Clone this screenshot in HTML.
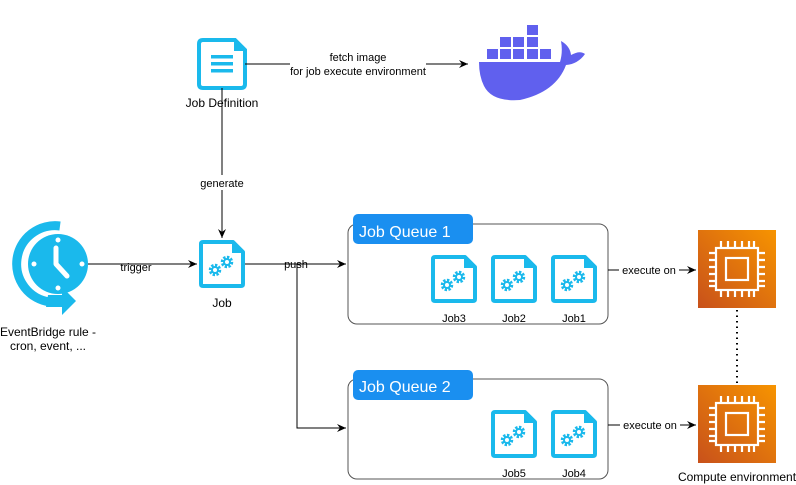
<!DOCTYPE html>
<html><head><meta charset="utf-8"><style>
html,body{margin:0;padding:0;background:#fff;}
svg{display:block;font-family:"Liberation Sans",sans-serif;}
</style></head><body>
<svg width="796" height="485" viewBox="0 0 796 485" xmlns="http://www.w3.org/2000/svg">
<defs>
<marker id="ar" markerWidth="10" markerHeight="10" refX="9" refY="5" orient="auto" markerUnits="userSpaceOnUse">
<path d="M0,1 L9,5 L0,9 L3,5 Z" fill="#000"/></marker>
<symbol id="jobicon" viewBox="0 0 46 48">
<path d="M4,2 H34 L44,12 V44 Q44,46 42,46 H4 Q2,46 2,44 V4 Q2,2 4,2 Z" fill="#fff" stroke="#1ab9ec" stroke-width="4" stroke-linejoin="round"/>
<path d="M33,2 V13 H44 Z" fill="#1ab9ec"/>
<g fill="none" stroke="#1ab9ec">
<circle cx="16" cy="30" r="4.5" stroke-width="3.5" stroke-dasharray="2.2 1.3"/>
<circle cx="16" cy="30" r="3" stroke-width="2"/>
<circle cx="28" cy="22" r="4.5" stroke-width="3.5" stroke-dasharray="2.2 1.3"/>
<circle cx="28" cy="22" r="3" stroke-width="2"/>
</g>
</symbol>
<symbol id="cpu" viewBox="0 0 78 78">
<defs><linearGradient id="og" x1="0" y1="1" x2="1" y2="0"><stop offset="0" stop-color="#c8511b"/><stop offset="1" stop-color="#f79400"/></linearGradient></defs>
<rect width="78" height="78" fill="url(#og)"/>
<g fill="none" stroke="#fff" stroke-width="2.2">
<rect x="18" y="18" width="42" height="42"/>
<rect x="28" y="28" width="22" height="22"/>
<path d="M23,18 V11 M30,18 V11 M37,18 V11 M44,18 V11 M51,18 V11 M56,18 V11 M23,60 V67 M30,60 V67 M37,60 V67 M44,60 V67 M51,60 V67 M56,60 V67 M18,23 H11 M18,30 H11 M18,37 H11 M18,44 H11 M18,51 H11 M18,56 H11 M60,23 H67 M60,30 H67 M60,37 H67 M60,44 H67 M60,51 H67 M60,56 H67"/>
</g>
</symbol>
</defs>

<!-- Job Definition -->
<path d="M203,40 H235 L245,50 V84 Q245,88 241,88 H203 Q199,88 199,84 V44 Q199,40 203,40 Z" fill="#fff" stroke="#1ab9ec" stroke-width="4"/>
<path d="M234,40 V51 H245 Z" fill="#1ab9ec"/>
<rect x="211" y="55" width="22" height="3.5" fill="#1ab9ec"/>
<rect x="211" y="62" width="22" height="3.5" fill="#1ab9ec"/>
<rect x="211" y="69" width="22" height="3.5" fill="#1ab9ec"/>
<text x="222" y="107" font-size="12" text-anchor="middle">Job Definition</text>

<!-- fetch line -->
<line x1="245" y1="64" x2="468" y2="64" stroke="#000" marker-end="url(#ar)"/>
<rect x="290" y="50" width="136" height="28" fill="#fff"/>
<text x="358" y="61" font-size="11" text-anchor="middle">fetch image</text>
<text x="358" y="75" font-size="11" text-anchor="middle">for job execute environment</text>

<!-- docker -->
<g fill="#6060ee">
<rect x="527" y="25" width="11" height="10"/>
<rect x="500" y="37" width="11" height="10"/><rect x="513" y="37" width="11" height="10"/><rect x="527" y="37" width="11" height="10"/>
<rect x="487" y="49" width="11" height="10"/><rect x="500" y="49" width="11" height="10"/><rect x="513" y="49" width="11" height="10"/><rect x="527" y="49" width="11" height="10"/><rect x="540" y="49" width="11" height="10"/>
<path d="M479,62 H560 Q563,52 561,41 Q570,46 571,55 Q580,50 585,54 Q578,64 566,65 Q556,92 520,100 Q492,102 484,86 Q479,76 479,62 Z"/>
</g>

<!-- generate -->
<line x1="222" y1="88" x2="222" y2="238" stroke="#000" marker-end="url(#ar)"/>
<rect x="198" y="175" width="48" height="15" fill="#fff"/>
<text x="222" y="187" font-size="11" text-anchor="middle">generate</text>

<!-- Job -->
<use href="#jobicon" x="199" y="240" width="46" height="48"/>
<text x="222" y="307" font-size="12" text-anchor="middle">Job</text>

<!-- clock -->
<path d="M60,226 A38,38 0 0 0 50,302" fill="none" stroke="#1ab9ec" stroke-width="9"/>
<path d="M48,295 L62,295 L62,287 L76,301 L62,315 L62,307 L46,307 Z" fill="#1ab9ec"/>
<circle cx="58" cy="264" r="30" fill="#1ab9ec"/>
<g fill="#fff"><circle cx="58" cy="240" r="2.5"/><circle cx="58" cy="288" r="2.5"/><circle cx="34" cy="264" r="2.5"/><circle cx="82" cy="264" r="2.5"/></g>
<path d="M56,248 V264 L67,276" fill="none" stroke="#fff" stroke-width="5" stroke-linecap="round" stroke-linejoin="round"/>
<text x="48" y="336" font-size="12" text-anchor="middle">EventBridge rule -</text>
<text x="48" y="350" font-size="12" text-anchor="middle">cron, event, ...</text>

<!-- trigger -->
<line x1="88" y1="264" x2="197" y2="264" stroke="#000" marker-end="url(#ar)"/>
<text x="136" y="271" font-size="11" text-anchor="middle">trigger</text>

<!-- push -->
<line x1="245" y1="264" x2="346" y2="264" stroke="#000" marker-end="url(#ar)"/>
<polyline points="297,264 297,428 346,428" fill="none" stroke="#000" marker-end="url(#ar)"/>
<text x="296" y="268" font-size="11" text-anchor="middle">push</text>

<!-- Queue 1 -->
<rect x="348" y="224" width="260" height="100" rx="9" fill="#fff" stroke="#555"/>
<rect x="353" y="214" width="120" height="30" rx="5" fill="#1a8ff0"/>
<text x="359" y="237" font-size="16" fill="#fff">Job Queue 1</text>
<use href="#jobicon" x="431" y="255" width="46" height="48"/>
<use href="#jobicon" x="491" y="255" width="46" height="48"/>
<use href="#jobicon" x="551" y="255" width="46" height="48"/>
<text x="454" y="322" font-size="11" text-anchor="middle">Job3</text>
<text x="514" y="322" font-size="11" text-anchor="middle">Job2</text>
<text x="574" y="322" font-size="11" text-anchor="middle">Job1</text>

<!-- Queue 2 -->
<rect x="348" y="379" width="260" height="100" rx="9" fill="#fff" stroke="#555"/>
<rect x="353" y="370" width="120" height="30" rx="5" fill="#1a8ff0"/>
<text x="359" y="392" font-size="16" fill="#fff">Job Queue 2</text>
<use href="#jobicon" x="491" y="410" width="46" height="48"/>
<use href="#jobicon" x="551" y="410" width="46" height="48"/>
<text x="514" y="477" font-size="11" text-anchor="middle">Job5</text>
<text x="574" y="477" font-size="11" text-anchor="middle">Job4</text>

<!-- execute -->
<line x1="608" y1="270" x2="696" y2="270" stroke="#000" marker-end="url(#ar)"/>
<rect x="619" y="263" width="60" height="14" fill="#fff"/>
<text x="649" y="274" font-size="11" text-anchor="middle">execute on</text>
<line x1="608" y1="425" x2="696" y2="425" stroke="#000" marker-end="url(#ar)"/>
<rect x="620" y="418" width="60" height="14" fill="#fff"/>
<text x="650" y="429" font-size="11" text-anchor="middle">execute on</text>

<use href="#cpu" x="698" y="230" width="78" height="78"/>
<use href="#cpu" x="698" y="385" width="78" height="78"/>
<line x1="737" y1="310" x2="737" y2="385" stroke="#000" stroke-width="2" stroke-dasharray="1.5 4"/>
<text x="737" y="481" font-size="12" text-anchor="middle">Compute environment</text>
</svg>
</body></html>
